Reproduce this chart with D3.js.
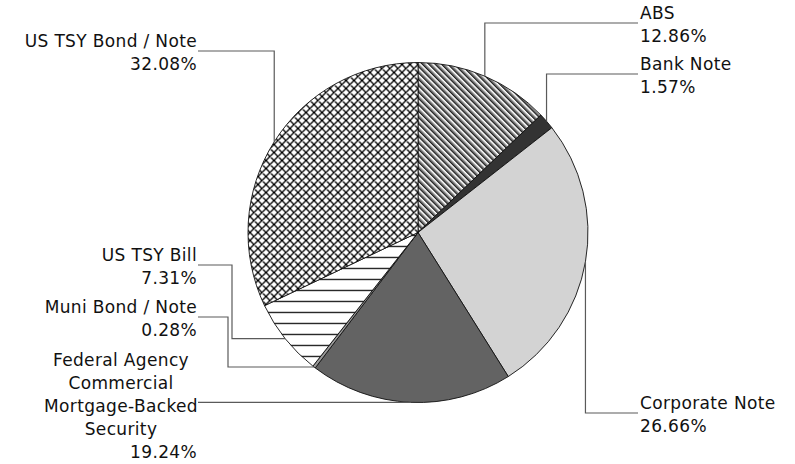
<!DOCTYPE html>
<html>
<head>
<meta charset="utf-8">
<script src="https://cdn.jsdelivr.net/npm/d3@7"></script>
<style>
  html, body { margin: 0; padding: 0; background: #fff; }
  svg { display: block; }
  text { font-family: Tahoma, "DejaVu Sans", Verdana, sans-serif; font-size: 17px; letter-spacing: 0.35px; fill: #111; }
</style>
</head>
<body>
<svg id="chart" width="795" height="464"></svg>
<script>
// Portfolio allocation by security type (percent of total)
const categories = [
  "ABS",
  "Bank Note",
  "Corporate Note",
  "Federal Agency Commercial Mortgage-Backed Security",
  "Muni Bond / Note",
  "US TSY Bill",
  "US TSY Bond / Note"
];
const values = [12.86, 1.57, 26.66, 19.24, 0.28, 7.31, 32.08];
const valueLabels = ["12.86%", "1.57%", "26.66%", "19.24%", "0.28%", "7.31%", "32.08%"];
const nameLines = [
  ["ABS"],
  ["Bank Note"],
  ["Corporate Note"],
  ["Federal Agency", "Commercial", "Mortgage-Backed", "Security"],
  ["Muni Bond / Note"],
  ["US TSY Bill"],
  ["US TSY Bond / Note"]
];
const fills = [
  "url(#diag)", "#333333", "#d3d3d3", "#636363", "#9a9a9a", "url(#hlines)", "url(#cross)"
];

// Label placement: side, y of the leader's horizontal run, optional elbow x
const labelLayout = [
  { side: "right", hookY: 23 },
  { side: "right", hookY: 74 },
  { side: "right", hookY: 413 },
  { side: "left",  hookY: 403, centred: true },
  { side: "left",  hookY: 317, elbowX: 228 },
  { side: "left",  hookY: 265, elbowX: 232 },
  { side: "left",  hookY: 51 }
];

const svg = d3.select("#chart");
const cx = 418, cy = 232.5, r = 170;
const rightTextX = 640, leftTextX = 197, lineH = 23;

// Fill patterns
const defs = svg.append("defs");
const diag = defs.append("pattern").attr("id", "diag")
  .attr("patternUnits", "userSpaceOnUse").attr("width", 4.5).attr("height", 4.5)
  .attr("patternTransform", "rotate(-45)");
diag.append("rect").attr("width", 4.5).attr("height", 4.5).attr("fill", "#ffffff");
diag.append("rect").attr("x", 0).attr("width", 1.6).attr("height", 4.5).attr("fill", "#1e1e1e");
diag.append("rect").attr("x", 1.6).attr("width", 1.4).attr("height", 4.5).attr("fill", "#8a8a8a");

const cross = defs.append("pattern").attr("id", "cross")
  .attr("patternUnits", "userSpaceOnUse").attr("width", 8).attr("height", 8);
cross.append("rect").attr("width", 8).attr("height", 8).attr("fill", "#fff");
cross.append("path").attr("d", "M0,0L8,8M8,0L0,8M-1,7L1,9M7,-1L9,1")
  .attr("stroke", "#000").attr("stroke-width", 1.25);

const hl = defs.append("pattern").attr("id", "hlines")
  .attr("patternUnits", "userSpaceOnUse").attr("width", 11).attr("height", 11).attr("y", 2.3);
hl.append("rect").attr("width", 11).attr("height", 11).attr("fill", "#fff");
hl.append("rect").attr("y", 0).attr("width", 11).attr("height", 1.2).attr("fill", "#000");

const data = categories.map((c, i) => ({ name: c, value: values[i], i }));
const pie = d3.pie().value(d => d.value).sort(null);
const arcs = pie(data);
const arc = d3.arc().innerRadius(0).outerRadius(r);

const g = svg.append("g").attr("transform", `translate(${cx},${cy})`);
g.selectAll("path.slice").data(arcs).join("path")
  .attr("class", "slice")
  .attr("d", arc)
  .attr("fill", d => fills[d.data.i])
  .attr("stroke", "#111")
  .attr("stroke-width", 0.9)
  .attr("stroke-linejoin", "round");

// Leader lines and labels
const leaders = svg.append("g");
const labels = svg.append("g");
arcs.forEach(a => {
  const i = a.data.i;
  const L = labelLayout[i];
  const mid = (a.startAngle + a.endAngle) / 2;
  const ex = cx + r * Math.sin(mid);
  const ey = cy - r * Math.cos(mid);
  const p = d3.path();
  p.moveTo(ex, ey);
  if (L.side === "right") {
    p.lineTo(ex, L.hookY);
    p.lineTo(rightTextX - 2, L.hookY);
  } else if (L.elbowX !== undefined) {
    p.lineTo(L.elbowX, ey);
    p.lineTo(L.elbowX, L.hookY);
    p.lineTo(leftTextX + 1, L.hookY);
  } else if (L.centred) {
    p.lineTo(leftTextX + 1, ey);
  } else {
    p.lineTo(ex, L.hookY);
    p.lineTo(leftTextX + 1, L.hookY);
  }
  leaders.append("path").attr("d", p.toString())
    .attr("fill", "none").attr("stroke", "#5a5a5a").attr("stroke-width", 1.2);

  const names = nameLines[i];
  if (L.centred) {
    // multi-line name centred over the value, value right aligned
    const midLine = Math.floor(names.length / 2);
    const base0 = L.hookY + 9 - midLine * lineH;
    const nameCx = 121;
    names.forEach((t, k) => {
      labels.append("text").attr("x", nameCx).attr("y", base0 + k * lineH)
        .attr("text-anchor", "middle").text(t);
    });
    labels.append("text").attr("x", leftTextX).attr("y", base0 + names.length * lineH)
      .attr("text-anchor", "end").text(valueLabels[i]);
  } else {
    const x = L.side === "right" ? rightTextX : leftTextX;
    const anchor = L.side === "right" ? "start" : "end";
    const base0 = L.hookY - 4;
    names.forEach((t, k) => {
      labels.append("text").attr("x", x).attr("y", base0 + k * lineH)
        .attr("text-anchor", anchor).text(t);
    });
    labels.append("text").attr("x", x).attr("y", base0 + names.length * lineH)
      .attr("text-anchor", anchor).text(valueLabels[i]);
  }
});
</script>
</body>
</html>
